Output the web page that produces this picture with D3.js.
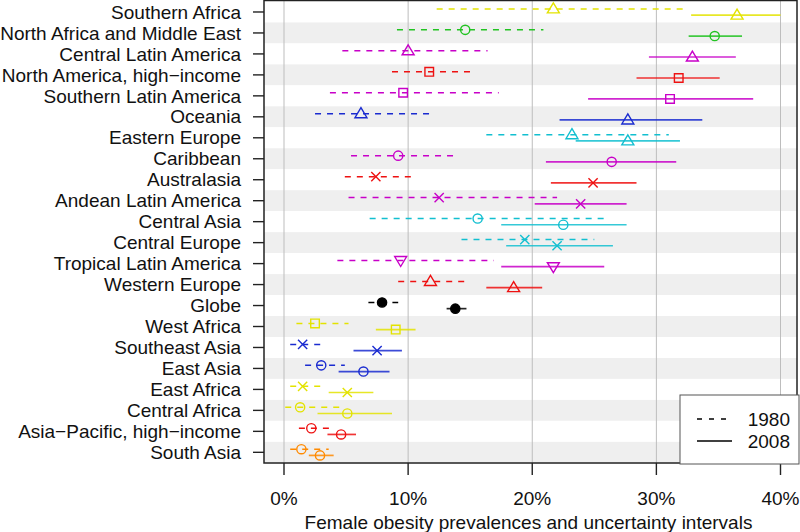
<!DOCTYPE html>
<html><head><meta charset="utf-8">
<script src="https://cdn.jsdelivr.net/npm/d3@7"></script>
<style>body{margin:0;background:#fff}svg{display:block}text{font-family:"Liberation Sans",Arial,sans-serif;fill:#111}</style>
</head><body><svg id="c" width="800" height="532"></svg>
<script>
const regions = ["Southern Africa","North Africa and Middle East","Central Latin America","North America, high\u2212income","Southern Latin America","Oceania","Eastern Europe","Caribbean","Australasia","Andean Latin America","Central Asia","Central Europe","Tropical Latin America","Western Europe","Globe","West Africa","Southeast Asia","East Asia","East Africa","Central Africa","Asia\u2212Pacific, high\u2212income","South Asia"];
const groups = ["ssa","name","lac","hi","lac","asia","ce","lac","hi","lac","ce","ce","lac","hi","globe","ssa","asia","asia","ssa","ssa","hi","sa"];
const shapes = ["tri","circle","tri","square","square","tri","tri","circle","x","x","circle","x","itri","tri","dot","square","x","circle","x","circle","circle","circle"];
const mid1980 = [21.7,14.6,10.0,11.7,9.6,6.2,23.2,9.2,7.4,12.5,15.6,19.4,9.4,11.8,7.9,2.5,1.5,3.0,1.5,1.3,2.2,1.4];
const lo1980  = [12.3,9.1,4.7,8.7,3.7,2.5,16.3,5.4,4.9,5.2,6.9,14.3,4.3,9.2,6.8,1.0,0.5,1.7,0.5,0.1,1.2,0.5];
const hi1980  = [32.3,20.9,16.4,15.3,17.3,11.9,31.0,13.8,10.3,22.0,25.8,25.0,16.9,14.8,9.2,5.2,3.1,4.9,3.0,4.6,3.7,3.6];
const mid2008 = [36.5,34.7,32.9,31.8,31.1,27.7,27.7,26.4,24.9,23.9,22.5,22.0,21.7,18.5,13.8,9.0,7.5,6.4,5.1,5.1,4.6,2.9];
const lo2008  = [32.8,32.6,29.4,28.4,24.5,22.2,23.5,21.1,21.5,20.2,17.5,17.9,17.5,16.3,13.1,7.4,5.6,4.4,3.6,2.7,3.5,2.0];
const hi2008  = [40.0,36.9,36.4,35.1,37.8,33.7,31.9,31.6,28.4,27.6,27.6,26.5,25.8,20.8,14.7,10.6,9.5,8.5,7.2,8.7,5.8,4.0];
const xTicks = [0,10,20,30,40];
const palette = {ssa:"#e3e300", name:"#22c322", lac:"#c800c8", hi:"#ee1111", asia:"#1a2bd0", ce:"#12bfd0", globe:"#000000", sa:"#ff8a00"};

const svg = d3.select("#c");
const x = d3.scaleLinear().domain([0,40]).range([284,780.5]);
const y = d3.scaleBand().domain(regions).range([1.5,462.8]).padding(0);
const box = {l:264, r:797, t:0.5, b:463};
const off = 3.1;
const fs = 19;

// stripes
svg.append("g").selectAll("rect").data(regions).join("rect")
  .attr("x",box.l).attr("width",box.r-box.l)
  .attr("y",d=>y(d)).attr("height",y.bandwidth())
  .attr("fill",(d,i)=>i%2?"#efefef":"#ffffff");
// grid
svg.append("g").selectAll("line").data(xTicks).join("line")
  .attr("x1",d=>x(d)).attr("x2",d=>x(d)).attr("y1",box.t).attr("y2",box.b)
  .attr("stroke","#bdbdbd").attr("stroke-width",1);

const rows = regions.map((r,i)=>({r,i,g:groups[i],s:shapes[i],
  a:[lo1980[i],mid1980[i],hi1980[i]], b:[lo2008[i],mid2008[i],hi2008[i]]}));
const cy = d=>y(d.r)+y.bandwidth()/2;

const gl = svg.append("g");
gl.selectAll(".d").data(rows).join("line").attr("class","d")
  .attr("x1",d=>x(d.a[0])).attr("x2",d=>x(d.a[2])).attr("y1",d=>cy(d)-off).attr("y2",d=>cy(d)-off)
  .attr("stroke",d=>palette[d.g]).attr("stroke-width",1.5).attr("stroke-dasharray","6,6");
gl.selectAll(".s").data(rows).join("line").attr("class","s")
  .attr("x1",d=>x(d.b[0])).attr("x2",d=>x(d.b[2])).attr("y1",d=>cy(d)+off).attr("y2",d=>cy(d)+off)
  .attr("stroke",d=>palette[d.g]).attr("stroke-width",1.7).attr("stroke-opacity",0.85);

function shapePath(s){
  switch(s){
    case "tri": return "M0,-6L6,4L-6,4Z";
    case "itri": return "M0,6L6,-4L-6,-4Z";
    case "square": return "M-4.3,-4.3H4.3V4.3H-4.3Z";
    case "x": return "M-4.6,-4.6L4.6,4.6M-4.6,4.6L4.6,-4.6";
    default: return "M-4.6,0A4.6,4.6 0 1,0 4.6,0A4.6,4.6 0 1,0 -4.6,0Z";
  }
}
const marks = [];
rows.forEach(d=>{ marks.push({d,v:d.a[1],dy:-off}); marks.push({d,v:d.b[1],dy:off}); });
svg.append("g").selectAll("path").data(marks).join("path")
  .attr("transform",m=>`translate(${x(m.v)},${cy(m.d)+m.dy})`)
  .attr("d",m=>shapePath(m.d.s))
  .attr("fill",m=>m.d.s==="dot"?"#000":"none")
  .attr("stroke",m=>palette[m.d.g]).attr("stroke-width",1.4);

// box
svg.append("rect").attr("x",box.l).attr("y",box.t).attr("width",box.r-box.l).attr("height",box.b-box.t)
  .attr("fill","none").attr("stroke","#222").attr("stroke-width",1.5);

// y axis labels
const ya = svg.append("g");
ya.selectAll("line").data(regions).join("line")
  .attr("x1",253).attr("x2",box.l).attr("y1",d=>y(d)+y.bandwidth()/2).attr("y2",d=>y(d)+y.bandwidth()/2)
  .attr("stroke","#222").attr("stroke-width",1.4);
ya.selectAll("text").data(regions).join("text")
  .attr("x",241).attr("y",d=>y(d)+y.bandwidth()/2).attr("dy","0.35em")
  .attr("text-anchor","end").attr("font-size",fs).text(d=>d);

// x axis
const xa = svg.append("g");
xa.selectAll("line").data(xTicks).join("line")
  .attr("x1",d=>x(d)).attr("x2",d=>x(d)).attr("y1",box.b).attr("y2",475)
  .attr("stroke","#222").attr("stroke-width",1.4);
xa.selectAll("text").data(xTicks).join("text")
  .attr("x",d=>x(d)).attr("y",505).attr("text-anchor","middle").attr("font-size",fs).text(d=>d+"%");
svg.append("text").attr("x",528.5).attr("y",529).attr("text-anchor","middle").attr("font-size",fs)
  .text("Female obesity prevalences and uncertainty intervals");

// legend
const lg = svg.append("g");
lg.append("rect").attr("x",680).attr("y",395).attr("width",119).attr("height",69)
  .attr("fill","#fff").attr("stroke","#555").attr("stroke-width",1);
const legendYears = ["1980","2008"];
lg.selectAll("line").data(legendYears).join("line")
  .attr("x1",697).attr("x2",(d,i)=>i?732:730).attr("y1",(d,i)=>419+i*22).attr("y2",(d,i)=>419+i*22)
  .attr("stroke","#000").attr("stroke-width",1.3).attr("stroke-dasharray",(d,i)=>i?null:"5,7");
lg.selectAll("text").data(legendYears).join("text")
  .attr("x",790).attr("y",(d,i)=>419+i*22).attr("dy","0.35em").attr("text-anchor","end")
  .attr("font-size",fs).text(d=>d);
</script></body></html>
